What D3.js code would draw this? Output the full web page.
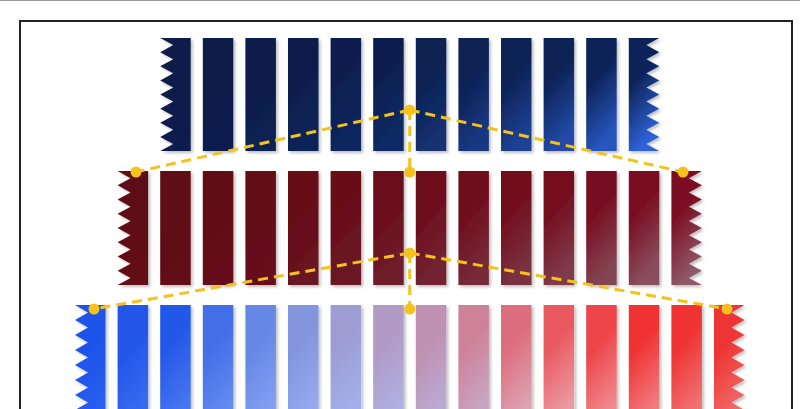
<!DOCTYPE html><html><head><meta charset="utf-8">
<script src="https://cdn.jsdelivr.net/npm/d3@7"></script>
<style>body{margin:0;background:#fff}svg{display:block}</style></head><body>
<svg id="c" width="800" height="409"></svg>
<script>
const rows = ["top","middle","bottom"];
const barCounts = [12, 14, 16];
const colOffsets = [2, 1, 0];
const W=800,H=409;
const svg=d3.select("#c");
const defs=svg.append("defs");
const f=defs.append("filter").attr("id","sh").attr("x","-20%").attr("y","-10%").attr("width","150%").attr("height","130%");
f.append("feDropShadow").attr("dx",2).attr("dy",2).attr("stdDeviation",1.5).attr("flood-color","#000").attr("flood-opacity",0.25);

svg.append("line").attr("x1",0).attr("x2",W).attr("y1",0.5).attr("y2",0.5).attr("stroke","#999");
svg.append("rect").attr("x",20).attr("y",21).attr("width",772).attr("height",420).attr("fill","#fff").attr("stroke","#222").attr("stroke-width",2);

const x=d3.scaleLinear().domain([0,1]).range([75,117.6]);
const bw=30.5;
const rowY=[38,171,305], rowH=[113,114,120];
const topBottom=d3.piecewise(d3.interpolateRgb,["#1d52e8","#2458e8","#6f8fe4","#a8a0d0","#c88aa6","#e86068","#f03232","#ee3434"]);
const botBottom=d3.piecewise(d3.interpolateRgb,["#2a5ef0","#4a78f0","#8aa4f2","#a8b4ec","#c0a8c8","#eaa0a8","#f07c80","#f06a6a"]);
function colorsFor(r,i,n){
  const t=i/(n-1);
  if(r===0){return [d3.interpolateRgb("#0a1c48","#0d2358")(t), d3.interpolateRgb("#0b1f4f","#2f62d8")(Math.pow(t,2.2))];}
  if(r===1){return [d3.interpolateRgb("#5c0a14","#7c0e22")(t), d3.interpolateRgb("#640b17","#8f5868")(Math.pow(t,1.8))];}
  return [topBottom(t), botBottom(t)];
}
function zig(x0,yt,h,w,side){
  const teeth=8,d=13,s=h/teeth;let p;
  if(side==="L"){
    p=`M${x0+w},${yt}L${x0},${yt}`;
    for(let k=0;k<teeth;k++){p+=`L${x0+d},${yt+s*(k+0.5)}L${x0},${yt+s*(k+1)}`;}
    p+=`L${x0+w},${yt+h}Z`;
  }else{
    p=`M${x0},${yt}L${x0+w},${yt}`;
    for(let k=0;k<teeth;k++){p+=`L${x0+w-d},${yt+s*(k+0.5)}L${x0+w},${yt+s*(k+1)}`;}
    p+=`L${x0},${yt+h}Z`;
  }
  return p;
}
barCounts.forEach((n,r)=>{
  const g=svg.append("g");
  d3.range(n).forEach(i=>{
    const [c1,c2]=colorsFor(r,i,n);
    const id=`g${r}_${i}`;
    const lg=defs.append("linearGradient").attr("id",id).attr("x1",0).attr("y1",0).attr("x2",0.3).attr("y2",1);
    lg.append("stop").attr("offset","0%").attr("stop-color",c1);
    lg.append("stop").attr("offset","40%").attr("stop-color",c1);
    lg.append("stop").attr("offset","100%").attr("stop-color",c2);
    const x0=x(colOffsets[r]+i), yt=rowY[r], h=rowH[r];
    if(i===0) g.append("path").attr("d",zig(x0,yt,h,bw,"L")).attr("fill",`url(#${id})`).attr("filter","url(#sh)");
    else if(i===n-1) g.append("path").attr("d",zig(x0,yt,h,bw,"R")).attr("fill",`url(#${id})`).attr("filter","url(#sh)");
    else g.append("rect").attr("x",x0).attr("y",yt).attr("width",bw).attr("height",h).attr("fill",`url(#${id})`).attr("filter","url(#sh)");
  });
});
const Y="#f5c21b";
const cx=x(7.5)+bw/2;
[[110,172,136,683],[253,309,94,727]].forEach(([ya,yb,xl,xr])=>{
  const g=svg.append("g");
  [[cx,ya,xl,yb],[cx,ya,xr,yb],[cx,ya,cx,yb]].forEach(l=>{
    g.append("line").attr("x1",l[0]).attr("y1",l[1]).attr("x2",l[2]).attr("y2",l[3])
     .attr("stroke",Y).attr("stroke-width",3).attr("stroke-dasharray","10,6");
  });
  [[cx,ya],[xl,yb],[xr,yb],[cx,yb]].forEach(p=>g.append("circle").attr("cx",p[0]).attr("cy",p[1]).attr("r",5.5).attr("fill",Y));
});
</script></body></html>
